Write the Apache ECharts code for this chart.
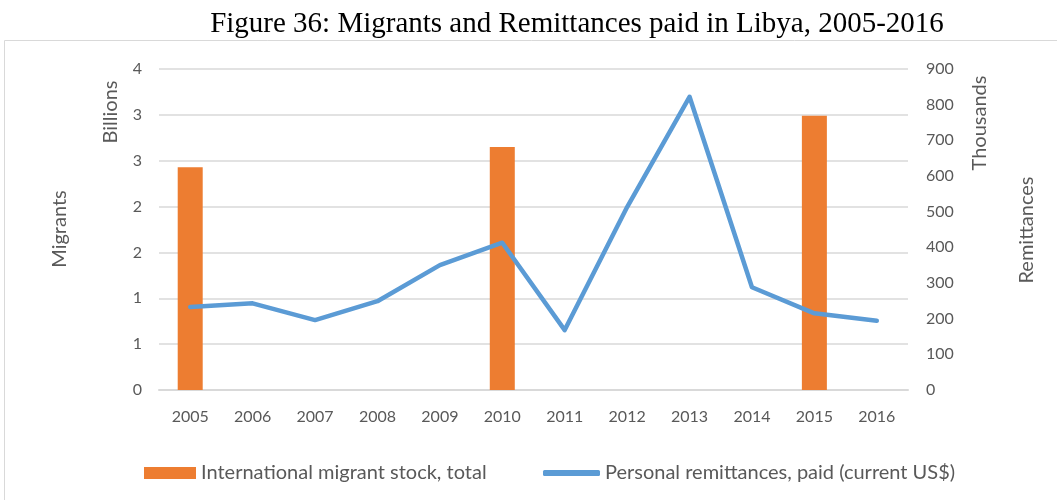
<!DOCTYPE html>
<html>
<head>
<meta charset="utf-8">
<script src="https://cdn.jsdelivr.net/npm/echarts@6/dist/echarts.min.js"></script>
<style>
  html, body { margin: 0; padding: 0; background: #fff; }
  #chart { width: 1057px; height: 500px; }
</style>
</head>
<body>
<div id="chart"></div>
<script>
  // values
  const years = ["2005", "2006", "2007", "2008", "2009", "2010", "2011", "2012", "2013", "2014", "2015", "2016"];
  // migrant stock, billions (only census years have a value)
  const migrants = [2.43, null, null, null, null, 2.65, null, null, null, null, 2.99, null];
  // remittances paid, thousands
  const remittances = [233, 243, 196, 249, 350, 413, 168, 513, 822, 288, 215, 194];

  const barName = "International migrant stock, total";
  const lineName = "Personal remittances, paid (current US$)";
  const grey = "#595959";
  const font = "Lato";

  const chart = echarts.init(document.getElementById("chart"));

  const sideLabel = (text, x, y) => ({
    type: "text",
    x: x,
    y: y,
    rotation: Math.PI / 2,
    style: {
      text: text,
      fill: grey,
      font: "20px " + font,
      align: "center",
      verticalAlign: "middle",
    },
  });

  chart.setOption({
    animation: false,
    title: {
      text: "Figure 36: Migrants and Remittances paid in Libya, 2005-2016",
      left: 572,
      textAlign: "center",
      top: 5,
      textStyle: {
        fontFamily: "Liberation Serif",
        fontWeight: "normal",
        fontSize: 29,
        color: "#000",
      },
    },
    graphic: [
      {
        type: "rect",
        shape: { x: 4.5, y: 40.5, width: 1060, height: 470 },
        style: { fill: "none", stroke: "#d9d9d9", lineWidth: 1 },
        silent: true,
        z: -1,
      },
      sideLabel("Billions", 111, 112),
      sideLabel("Migrants", 60, 229),
      sideLabel("Thousands", 980, 123),
      sideLabel("Remittances", 1027, 230),
    ],
    legend: [
      {
        data: [{ name: barName, icon: "rect" }],
        left: 139,
        top: 458,
        itemWidth: 52,
        itemHeight: 12,
        textStyle: { color: grey, fontFamily: font, fontSize: 20 },
      },
      {
        data: [{ name: lineName, icon: "roundRect" }],
        left: 538,
        top: 458,
        itemWidth: 57,
        itemHeight: 6,
        textStyle: { color: grey, fontFamily: font, fontSize: 20 },
      },
    ],
    grid: { left: 159, right: 149, top: 69, bottom: 110 },
    xAxis: {
      type: "category",
      data: years,
      axisLine: { lineStyle: { color: "#d9d9d9", width: 2 } },
      axisTick: { show: false },
      axisLabel: { color: grey, fontFamily: font, fontSize: 16, margin: 19 },
    },
    yAxis: [
      {
        type: "value",
        min: 0,
        max: 3.5,
        interval: 0.5,
        axisLine: { show: false },
        axisTick: { show: false },
        axisLabel: {
          color: grey,
          fontFamily: font,
          fontSize: 16,
          margin: 17,
          formatter: (v) => String(Math.round(v)),
        },
        splitLine: { lineStyle: { color: "#d9d9d9", width: 1.5 } },
      },
      {
        type: "value",
        min: 0,
        max: 900,
        interval: 100,
        axisLine: { show: false },
        axisTick: { show: false },
        axisLabel: { color: grey, fontFamily: font, fontSize: 16, margin: 18 },
        splitLine: { show: false },
      },
    ],
    series: [
      {
        name: barName,
        type: "bar",
        data: migrants,
        yAxisIndex: 0,
        barWidth: 25,
        itemStyle: { color: "#ED7D31" },
      },
      {
        name: lineName,
        type: "line",
        data: remittances,
        yAxisIndex: 1,
        symbol: "none",
        lineStyle: { color: "#5B9BD5", width: 4.5, cap: "round", join: "round" },
        itemStyle: { color: "#5B9BD5" },
        z: 3,
      },
    ],
  });
</script>
</body>
</html>
